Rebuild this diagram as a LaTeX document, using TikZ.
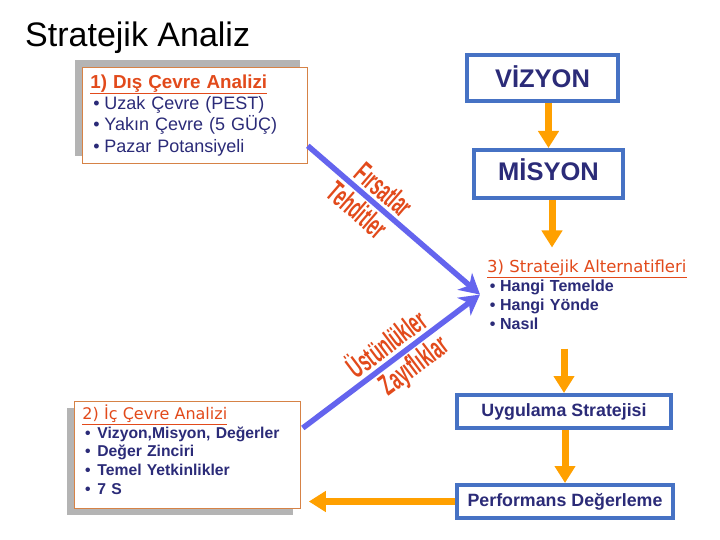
\documentclass[tikz,border=0pt]{standalone}
\usepackage{fontspec}
\usepackage{graphicx}
\setmainfont{Liberation Sans}
\newfontfamily\headfont{DejaVu Sans}
\usetikzlibrary{calc, positioning, arrows.meta, shadows}

\definecolor{accent}{RGB}{226,74,27}
\definecolor{navy}{RGB}{43,43,120}
\definecolor{boxblue}{RGB}{70,114,196}
\definecolor{flowor}{RGB}{255,160,0}
\definecolor{swotblue}{RGB}{100,100,238}
\definecolor{panelline}{RGB}{214,130,70}
\definecolor{shade}{RGB}{180,180,180}

\newcommand{\fsz}[2]{\fontsize{#1}{#2}\selectfont}
\newcommand{\bul}[1]{\makebox[#1][l]{\,\textbullet}}
\newcommand{\squeeze}[1]{\scalebox{0.55}[1]{#1}}

\begin{document}
\begin{tikzpicture}[x=1pt, y=-1pt,
  panel/.style={draw=panelline, line width=0.8pt, fill=white, text=navy, align=left, anchor=north west, inner xsep=8pt, inner ysep=2pt},
  stage/.style={draw=boxblue, line width=4pt, fill=white, text=navy, inner sep=0pt},
  flow/.style={draw=flowor, line width=7pt, -{Triangle[length=17pt, width=20pt]}},
  swot/.style={draw=swotblue, line width=5.5pt, -{Stealth[length=20pt, width=22pt, inset=6pt]}},
  slab/.style={sloped, text=accent, font=\fsz{30}{30}\bfseries, inner sep=0pt}
]
\path[use as bounding box, fill=white] (0,0) rectangle (720,540);

\node[anchor=base west, inner sep=0pt, font=\fsz{34}{38}] (title) at (25,47) {Stratejik Analiz};

% analysis panels
\node[panel, minimum width=225pt, minimum height=96pt, text width=209pt, font=\fsz{18}{21.3},
  general shadow={fill=shade, draw=none, shadow xshift=-7pt, shadow yshift=7pt}] (dis) at (82,67) {%
  {\bfseries\fsz{18.8}{21.3}\color{accent}\underline{1) Dış Çevre Analizi}}\\
  \bul{14pt}Uzak Çevre (PEST)\\
  \bul{14pt}Yakın Çevre (5 GÜÇ)\\
  \bul{14pt}Pazar Potansiyeli};
\node[panel, minimum width=226pt, minimum height=107pt, text width=210pt, font=\fsz{15.7}{18.8}\bfseries,
  general shadow={fill=shade, draw=none, shadow xshift=-7pt, shadow yshift=-7pt}] (ic) at (74,401) {%
  {\headfont\mdseries\fsz{16}{18.8}\color{accent}\underline{2) İç Çevre Analizi}}\\
  \bul{15pt}Vizyon,Misyon, Değerler\\
  \bul{15pt}Değer Zinciri\\
  \bul{15pt}Temel Yetkinlikler\\
  \bul{15pt}7 S\rule[-10.5pt]{0pt}{10.5pt}};

% right column
\node[stage, minimum width=151pt, minimum height=46pt, text height=18.4pt, text depth=0pt, font=\fsz{25.5}{30}\bfseries] (vizyon) at (542.5,78) {VİZYON};
\node[stage, minimum width=149pt, minimum height=48pt, text height=18.4pt, text depth=6pt, font=\fsz{25.5}{30}\bfseries, below=45pt of vizyon, xshift=6pt] (misyon) {MİSYON};
\node[anchor=north west, inner xsep=7pt, inner ysep=12pt, text width=205pt, align=left, text=navy, font=\fsz{16}{19}\bfseries] (strat) at (480,247.5) {%
  {\headfont\mdseries\fsz{16.5}{19}\color{accent}\underline{3) Stratejik Alternatifleri}}\\
  \bul{13pt}Hangi Temelde\\
  \bul{13pt}Hangi Yönde\\
  \bul{13pt}Nasıl};
\node[stage, minimum width=214pt, minimum height=33pt, font=\fsz{17.8}{20}\bfseries] (uyg) at (564,411.5) {Uygulama Stratejisi};
\node[stage, minimum width=216pt, minimum height=33pt, font=\fsz{17.8}{20}\bfseries, below=53pt of uyg, xshift=1pt] (perf) {Performans Değerleme};

% orange flow
\draw[flow] (vizyon.south -| misyon.north) -- (misyon.north);
\draw[flow] ([xshift=3.5pt]misyon.south) -- ([xshift=3.5pt]misyon.south |- strat.north);
\draw[flow, shorten <=7pt] (strat.south -| uyg.north) -- (uyg.north);
\draw[flow] (uyg.south -| perf.north) -- (perf.north);
\draw[flow, shorten >=8pt] (perf.west) -- (perf.west -| ic.east);

% swot arrows
\draw[swot] ($(dis.south east)+(0,-18)$) --
  node[slab, pos=.38, above=3pt] (firsat) {\squeeze{Fırsatlar}}
  node[slab, pos=.35, below=2pt] (tehdit) {\squeeze{Tehditler}} (strat.west);
\draw[swot] ($(ic.north east)+(2,27)$) --
  node[slab, pos=.53, above=3pt] (ustun) {\squeeze{Üstünlükler}}
  node[slab, pos=.57, below=2pt] (zayif) {\squeeze{Zayıflıklar}} (strat.west);

\end{tikzpicture}
\end{document}
